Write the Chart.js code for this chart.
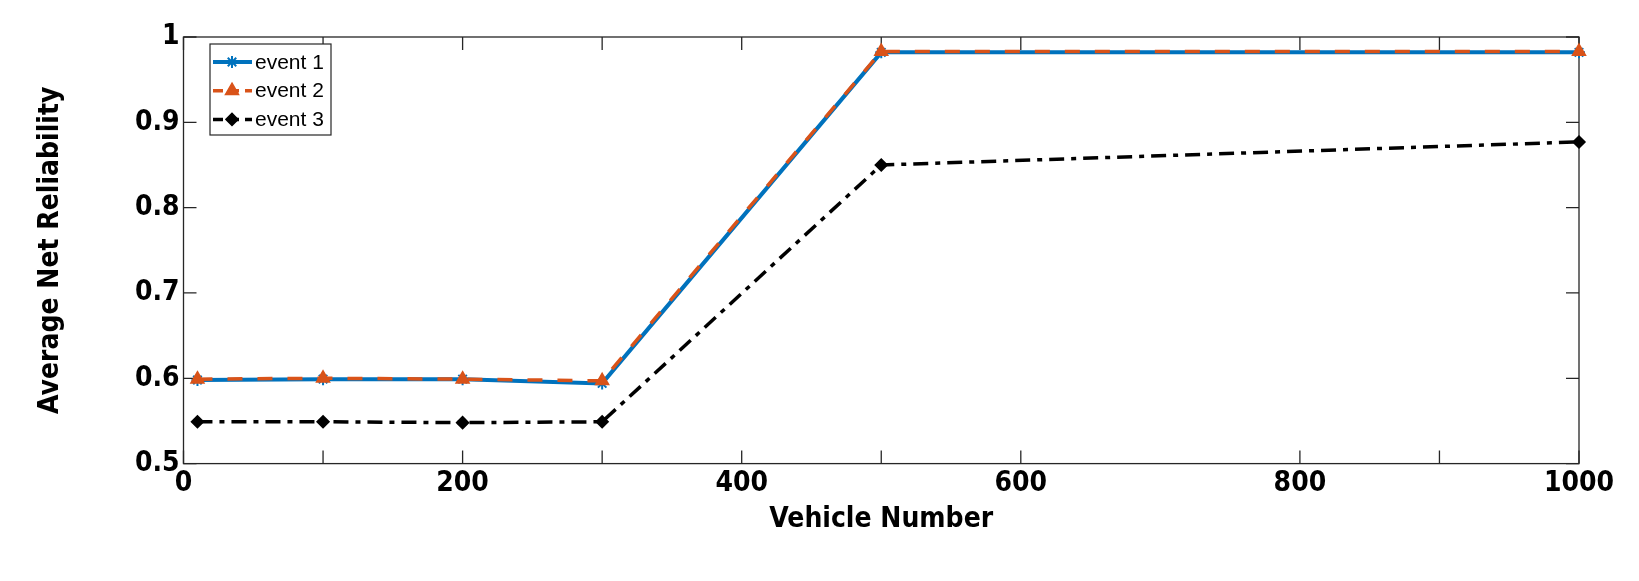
<!DOCTYPE html>
<html>
<head>
<meta charset="utf-8">
<script src="https://cdn.jsdelivr.net/npm/chart.js@4.4.0/dist/chart.umd.min.js"></script>
<style>
  html, body { margin: 0; padding: 0; background: #fff; }
</style>
</head>
<body>
<canvas id="chart" width="1639" height="581"></canvas>
<script>
const vehicleNumbers = [10, 100, 200, 300, 500, 1000];
const event1 = [0.598, 0.599, 0.599, 0.594, 0.982, 0.982];
const event2 = [0.599, 0.600, 0.599, 0.597, 0.983, 0.983];
const event3 = [0.549, 0.549, 0.548, 0.549, 0.850, 0.877];
const seriesNames = ["event 1", "event 2", "event 3"];
const xLabelValues = [0, 200, 400, 600, 800, 1000];
const xTickMarks = [0, 100, 200, 300, 400, 500, 600, 800, 900, 1000];
const yLabelValues = [0.5, 0.6, 0.7, 0.8, 0.9, 1];

const tickFont = { family: "'DejaVu Sans Condensed', 'DejaVu Sans'", size: 28, weight: "bold" };
const frameColor = "#262626";

const toPoints = (ys) => vehicleNumbers.map((x, i) => ({ x: x, y: ys[i] }));

// box + inward tick marks like the original figure
const framePlugin = {
  id: "frame",
  beforeDatasetsDraw(chart) {
    const { ctx, chartArea: a, scales } = chart;
    const len = 13;
    ctx.save();
    ctx.strokeStyle = frameColor;
    ctx.lineWidth = 1.3;
    ctx.strokeRect(a.left, a.top, a.right - a.left, a.bottom - a.top);
    ctx.beginPath();
    xTickMarks.forEach((v) => {
      const px = scales.x.getPixelForValue(v);
      ctx.moveTo(px, a.bottom); ctx.lineTo(px, a.bottom - len);
      ctx.moveTo(px, a.top); ctx.lineTo(px, a.top + len);
    });
    yLabelValues.forEach((v) => {
      const py = scales.y.getPixelForValue(v);
      ctx.moveTo(a.left, py); ctx.lineTo(a.left + len, py);
      ctx.moveTo(a.right, py); ctx.lineTo(a.right - len, py);
    });
    ctx.stroke();
    ctx.restore();
  }
};

// legend box inside the plot, top left
const legendPlugin = {
  id: "insideLegend",
  afterDraw(chart) {
    const { ctx } = chart;
    const box = { x: 210, y: 44, w: 121, h: 91 };
    ctx.save();
    ctx.fillStyle = "#fff";
    ctx.fillRect(box.x, box.y, box.w, box.h);
    ctx.strokeStyle = frameColor;
    ctx.lineWidth = 1.2;
    ctx.strokeRect(box.x, box.y, box.w, box.h);
    chart.data.datasets.forEach((ds, i) => {
      const y = 62 + i * 28.7;
      ctx.save();
      ctx.strokeStyle = ds.borderColor;
      ctx.lineWidth = ds.borderWidth;
      ctx.setLineDash(ds.borderDash ? [10, 6] : []);
      ctx.beginPath();
      ctx.moveTo(213, y);
      ctx.lineTo(252, y);
      ctx.stroke();
      ctx.restore();
      ctx.save();
      ctx.fillStyle = ds.pointBackgroundColor;
      ctx.strokeStyle = ds.pointBorderColor;
      ctx.lineWidth = ds.pointBorderWidth;
      Chart.helpers.drawPoint(ctx, { pointStyle: ds.pointStyle, radius: ds.pointRadius, rotation: 0, borderWidth: ds.pointBorderWidth }, 232, y);
      ctx.restore();
      ctx.fillStyle = "#000";
      ctx.font = "21px 'Liberation Sans', Arial, sans-serif";
      ctx.textBaseline = "middle";
      ctx.fillText(ds.label, 255, y + 1);
    });
    ctx.restore();
  }
};

new Chart(document.getElementById("chart"), {
  type: "line",
  data: {
    datasets: [
      {
        label: seriesNames[0],
        data: toPoints(event1),
        order: 3,
        borderColor: "#0072BD",
        borderWidth: 4,
        pointStyle: "star",
        pointRadius: 6,
        pointBorderWidth: 2,
        pointBorderColor: "#0072BD",
        pointBackgroundColor: "#0072BD"
      },
      {
        label: seriesNames[1],
        data: toPoints(event2),
        order: 2,
        borderColor: "#D95319",
        borderWidth: 3.5,
        borderDash: [15, 15],
        pointStyle: "triangle",
        pointRadius: 7.5,
        pointBorderWidth: 1.5,
        pointBorderColor: "#D95319",
        pointBackgroundColor: "#D95319"
      },
      {
        label: seriesNames[2],
        data: toPoints(event3),
        order: 1,
        borderColor: "#000000",
        borderWidth: 3.5,
        borderDash: [15, 7, 5, 7],
        pointStyle: "rectRot",
        pointRadius: 6,
        pointBorderWidth: 1.5,
        pointBorderColor: "#000000",
        pointBackgroundColor: "#000000"
      }
    ]
  },
  options: {
    responsive: false,
    animation: false,
    clip: false,
    layout: { padding: { left: 0, top: 37, right: 60, bottom: 0 } },
    plugins: {
      legend: { display: false },
      tooltip: { enabled: false }
    },
    elements: { line: { tension: 0 } },
    scales: {
      x: {
        type: "linear",
        min: 0,
        max: 1000,
        grid: { display: false, drawTicks: false },
        border: { display: false },
        ticks: {
          stepSize: 100,
          autoSkip: false,
          maxRotation: 0,
          padding: 3,
          color: "#000",
          font: tickFont,
          callback: (v) => (xLabelValues.includes(v) ? String(v) : "")
        },
        title: {
          display: true,
          text: "Vehicle Number",
          color: "#000",
          font: tickFont,
          padding: { top: 0, bottom: 44 }
        },
        afterFit: (s) => { s.height = 117.4; }
      },
      y: {
        type: "linear",
        min: 0.5,
        max: 1,
        grid: { display: false, drawTicks: false },
        border: { display: false },
        ticks: {
          stepSize: 0.1,
          padding: 4,
          color: "#000",
          font: tickFont,
          callback: (v) => {
            const r = Math.round(v * 10) / 10;
            return yLabelValues.includes(r) ? String(r) : "";
          }
        },
        title: {
          display: true,
          text: "Average Net Reliability",
          color: "#000",
          font: tickFont,
          padding: { top: 34, bottom: 0 }
        },
        afterFit: (s) => { s.width = 183.5; }
      }
    }
  },
  plugins: [framePlugin, legendPlugin]
});
</script>
</body>
</html>
